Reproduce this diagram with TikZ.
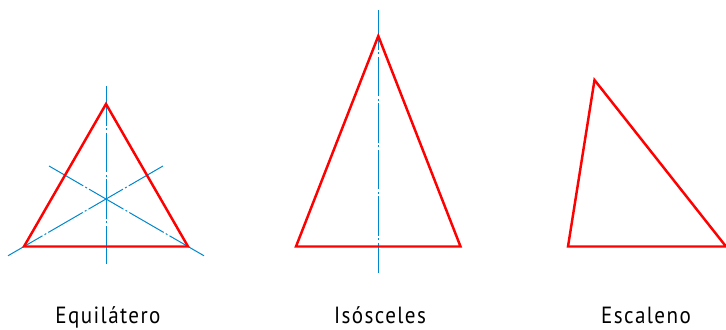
\documentclass[tikz,border=0pt]{standalone}
\usepackage{fontspec}
\setmainfont{PT Sans}[FakeStretch=0.9, LetterSpace=6]
\usetikzlibrary{calc}
\definecolor{axisblue}{RGB}{0,136,204}
\tikzset{
  side/.style={draw=red, line width=2.1pt, line join=miter},
  axisline/.style={draw=axisblue, line width=0.85pt, dash pattern=on 34pt off 2pt on 1.7pt off 2pt},
  caption/.style={anchor=base, font=\fontsize{20}{24}\selectfont, inner sep=0pt}
}

\begin{document}
\begin{tikzpicture}[x=0.03cm, y=-0.03cm]
  \useasboundingbox (0,0) rectangle (726,329);
  % equilatero
  \coordinate (e1) at (24,246.5);
  \coordinate (e2) at (188,246.5);
  \coordinate (e3) at (106,104);
  \coordinate (eo) at (106,199);
  \draw[axisline] ($(e1)!-0.195!(eo)$) -- ($(e1)!1.695!(eo)$);
  \draw[axisline] ($(e2)!-0.195!(eo)$) -- ($(e2)!1.695!(eo)$);
  \draw[axisline] (106,86) -- (106,264);
  \draw[side] (e1) -- (e2) -- (e3) -- cycle;
  \node[caption] (eq) at (108,323.3) {Equilátero};
  % isosceles
  \coordinate (i1) at (296,246.5);
  \coordinate (i2) at (460.5,246.5);
  \coordinate (i3) at (378.3,36);
  \draw[axisline] (378.3,10) -- (378.3,273);
  \draw[side] (i1) -- (i2) -- (i3) -- cycle;
  \node[caption] (is) at (380,323.3) {Isósceles};
  % escaleno
  \coordinate (s1) at (568,246.5);
  \coordinate (s2) at (726,246.5);
  \coordinate (s3) at (594.5,80);
  \draw[side] (s1) -- (s2) -- (s3) -- cycle;
  \node[caption] (es) at (646,323.3) {Escaleno};
\end{tikzpicture}
\end{document}
